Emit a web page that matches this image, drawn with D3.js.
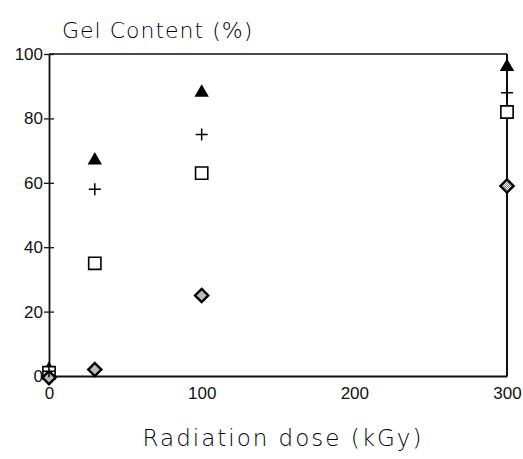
<!DOCTYPE html>
<html><head><meta charset="utf-8">
<script src="https://cdn.jsdelivr.net/npm/d3@7"></script>
<style>body{margin:0;background:#fff}svg{display:block}</style>
</head><body>
<svg id="c" width="523" height="459"></svg>
<script>
const doses = [0, 30, 100, 300];
const triangleVals = [2, 67, 88, 96];
const plusVals = [1.5, 58, 75, 88];
const squareVals = [1, 35, 63, 82];
const diamondVals = [-0.5, 2, 25, 59];
const yTicks = [0, 20, 40, 60, 80, 100];
const xTicks = [0, 100, 200, 300];

const svg = d3.select("#c");
const x = d3.scaleLinear().domain([0, 300]).range([49, 507]);
const y = d3.scaleLinear().domain([0, 100]).range([376, 54]);

const defs = svg.append("defs");
const pat = defs.append("pattern").attr("id","hatch").attr("width",2).attr("height",2).attr("patternUnits","userSpaceOnUse");
pat.append("rect").attr("width",2).attr("height",2).attr("fill","#fff");
pat.append("rect").attr("width",1).attr("height",1).attr("fill","#777");
pat.append("rect").attr("x",1).attr("y",1).attr("width",1).attr("height",1).attr("fill","#777");

// frame
svg.append("line").attr("x1",x(0)).attr("x2",x(300)).attr("y1",y(100)).attr("y2",y(100)).attr("stroke","#111").attr("stroke-width",1.5);
svg.append("line").attr("x1",x(300)).attr("x2",x(300)).attr("y1",y(100)).attr("y2",y(0)).attr("stroke","#111").attr("stroke-width",2);

const tickFont = "Liberation Sans, Arial, sans-serif";
// y axis
const ya = svg.append("g").attr("transform",`translate(${x(0)},0)`)
  .call(d3.axisLeft(y).tickValues(yTicks).tickSize(0).tickPadding(6).tickFormat(d3.format("d")));
ya.select(".domain").attr("stroke","#111").attr("stroke-width",1.8);
ya.selectAll(".tick line").attr("x1",-5).attr("x2",5).attr("stroke","#111").attr("stroke-width",1.3);
ya.selectAll("text").style("font-size","17px").style("font-family",tickFont).attr("fill","#111");

// x axis
const xa = svg.append("g").attr("transform",`translate(0,${y(0)})`)
  .call(d3.axisBottom(x).tickValues(xTicks).tickSize(0).tickPadding(11).tickFormat(d3.format("d")));
xa.select(".domain").attr("stroke","#111").attr("stroke-width",2);
xa.selectAll("text").style("font-size","17px").style("font-family",tickFont).attr("fill","#111");

// markers
const g = svg.append("g");
const tri = d3.symbol().type(d3.symbolTriangle).size(90);
g.selectAll(".tri").data(doses.map((d,i)=>[d,triangleVals[i]])).join("path")
  .attr("d",tri).attr("transform",d=>`translate(${x(d[0])},${y(d[1])})`).attr("fill","#000");

const sq = d3.symbol().type(d3.symbolSquare).size(150);
g.selectAll(".sq").data(doses.map((d,i)=>[d,squareVals[i]])).join("path")
  .attr("d",sq).attr("transform",d=>`translate(${x(d[0])},${y(d[1])})`).attr("fill","#fff").attr("stroke","#000").attr("stroke-width",1.6);

const dia = d3.symbol().type(d3.symbolDiamond2).size(110);
g.selectAll(".dia").data(doses.map((d,i)=>[d,diamondVals[i]])).join("path")
  .attr("d",dia).attr("transform",d=>`translate(${x(d[0])},${y(d[1])})`).attr("fill","url(#hatch)").attr("stroke","#000").attr("stroke-width",2.4);

g.selectAll(".pl").data(doses.map((d,i)=>[d,plusVals[i]])).join("path")
  .attr("d","M-6,0H6M0,-6V6").attr("transform",d=>`translate(${x(d[0])},${y(d[1])})`).attr("fill","none").attr("stroke","#000").attr("stroke-width",1.5);

// titles
const titleFont = "DejaVu Sans, sans-serif";
svg.append("text").attr("x",62).attr("y",38).attr("fill","#000")
  .style("font-family",titleFont).style("font-size","22px").style("font-weight","200").style("letter-spacing","1px")
  .text("Gel Content (%)");
svg.append("text").attr("x",283).attr("y",446).attr("text-anchor","middle").attr("fill","#000")
  .style("font-family",titleFont).style("font-size","23px").style("font-weight","200").style("letter-spacing","2px")
  .text("Radiation dose (kGy)");
</script>
</body></html>
